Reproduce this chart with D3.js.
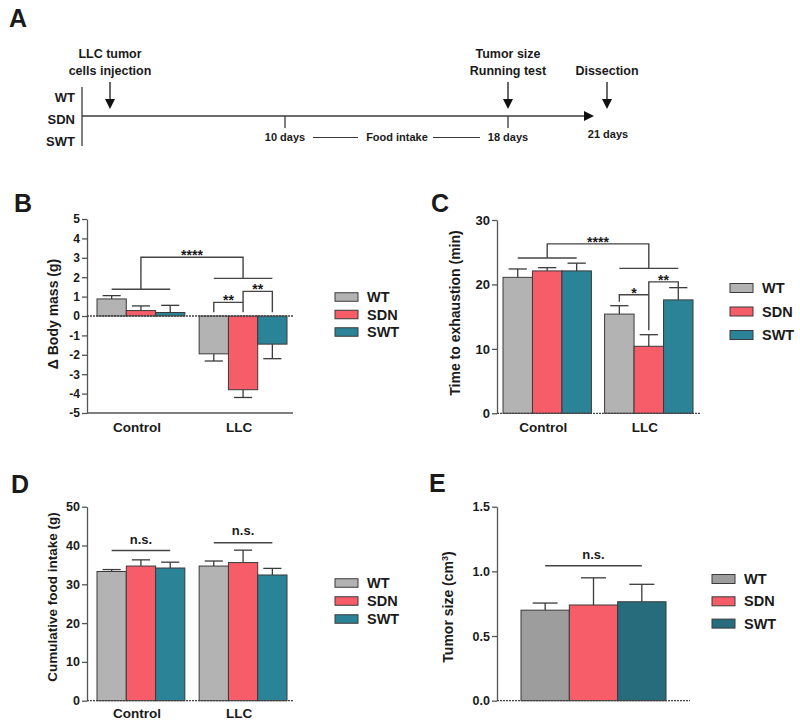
<!DOCTYPE html>
<html><head><meta charset="utf-8">
<script src="https://cdn.jsdelivr.net/npm/d3@7"></script>
<style>
body{margin:0;background:#fff}
text{font-family:"Liberation Sans",Arial,Helvetica,sans-serif;font-weight:bold;fill:#1a1a1a}
</style>
</head><body><svg id="c" width="800" height="726"></svg>
<script>
// ---------- DATA ----------
const groups = ["WT", "SDN", "SWT"];
const categories = ["Control", "LLC"];
const colorsBD = ["#b3b3b3", "#f75d68", "#2b8397"];
const colorsE = ["#9d9d9d", "#f75d68", "#266c7d"];

// Panel B: change in body mass (g)
const bodyMassControl = [0.88, 0.28, 0.18];
const bodyMassControlSem = [0.17, 0.24, 0.37];
const bodyMassLLC = [-1.95, -3.8, -1.45];
const bodyMassLLCSem = [0.37, 0.4, 0.75];
const bodyMassTicks = [-5, -4, -3, -2, -1, 0, 1, 2, 3, 4, 5];

// Panel C: time to exhaustion (min)
const exhaustControl = [21.1, 22.1, 22.1];
const exhaustControlSem = [1.3, 0.5, 1.2];
const exhaustLLC = [15.4, 10.4, 17.6];
const exhaustLLCSem = [1.3, 1.8, 1.9];
const exhaustTicks = [0, 10, 20, 30];

// Panel D: cumulative food intake (g)
const foodControl = [33.3, 34.7, 34.2];
const foodControlSem = [0.5, 1.6, 1.5];
const foodLLC = [34.7, 35.6, 32.4];
const foodLLCSem = [1.3, 3.2, 1.7];
const foodTicks = [0, 10, 20, 30, 40, 50];

// Panel E: tumor size (cm3)
const tumorSize = [0.70, 0.74, 0.765];
const tumorSizeSem = [0.055, 0.21, 0.135];
const tumorTicks = [0, 0.5, 1.0, 1.5];

// Panel A: timeline
const timelineGroups = ["WT", "SDN", "SWT"];
const timelineDays = [-1, 0, 10, 18, 21];
const timelineTicks = [10, 18];
const timelineTickLabels = ["10 days", "18 days"];
const timelineEvents = [
  {day: 0, lines: ["LLC tumor", "cells injection"]},
  {day: 18, lines: ["Tumor size", "Running test"]},
  {day: 21, lines: ["Dissection"]}
];

// ---------- DRAW ----------
const svg = d3.select("#c");
const AX = "#555";
const INK = "#3a3a3a";

function letter(t, x, y) {
  svg.append("text").attr("x", x).attr("y", y).attr("font-size", 25).text(t);
}

// Panel A
(function () {
  letter("A", 9, 27);
  const g = svg.append("g");
  const x = d3.scaleLinear().domain(timelineDays).range([82, 110, 285, 508, 607]);
  const yLine = 116;
  const yG = d3.scalePoint().domain(timelineGroups).range([97, 141]);
  g.selectAll("text.grp").data(timelineGroups).join("text")
    .attr("x", 75).attr("y", d => yG(d) + 4.5).attr("text-anchor", "end")
    .attr("font-size", 13).text(d => d);
  g.append("line").attr("x1", x(-1)).attr("x2", x(-1)).attr("y1", 87).attr("y2", 146)
    .attr("stroke", INK).attr("stroke-width", 1.3);
  g.append("line").attr("x1", x(-1)).attr("x2", 584).attr("y1", yLine).attr("y2", yLine)
    .attr("stroke", INK).attr("stroke-width", 1.5);
  g.append("path").attr("d", `M584,${yLine - 5}L594,${yLine}L584,${yLine + 5}Z`).attr("fill", "#111");
  g.selectAll("line.tk").data(timelineTicks).join("line")
    .attr("x1", d => x(d)).attr("x2", d => x(d)).attr("y1", yLine).attr("y2", yLine + 12)
    .attr("stroke", INK).attr("stroke-width", 1.3);
  g.selectAll("text.tkl").data(timelineTicks).join("text")
    .attr("x", d => x(d)).attr("y", 141).attr("text-anchor", "middle")
    .attr("font-size", 11).text((d, i) => timelineTickLabels[i]);
  g.append("text").attr("x", x(21) + 1).attr("y", 138).attr("text-anchor", "middle")
    .attr("font-size", 11).text("21 days");
  g.append("line").attr("x1", 313).attr("x2", 358).attr("y1", 137.5).attr("y2", 137.5).attr("stroke", INK);
  g.append("line").attr("x1", 433).attr("x2", 480).attr("y1", 137.5).attr("y2", 137.5).attr("stroke", INK);
  g.append("text").attr("x", 397).attr("y", 141).attr("text-anchor", "middle")
    .attr("font-size", 11).text("Food intake");
  timelineEvents.forEach(ev => {
    const cx = x(ev.day);
    g.append("line").attr("x1", cx).attr("x2", cx).attr("y1", 82).attr("y2", 100)
      .attr("stroke", INK).attr("stroke-width", 1.5);
    g.append("path").attr("d", `M${cx - 5},99L${cx + 5},99L${cx},109Z`).attr("fill", "#111");
    const n = ev.lines.length;
    ev.lines.forEach((t, i) => {
      g.append("text").attr("x", cx).attr("y", 75 - (n - 1 - i) * 17)
        .attr("text-anchor", "middle").attr("font-size", 12.5).text(t);
    });
  });
})();

// Generic bar panel
function barPanel(o) {
  const g = svg.append("g");
  const y = d3.scaleLinear().domain(o.yDomain).range(o.yRange);
  const x0 = d3.scaleBand().domain(o.cats).range(o.xRange).paddingInner(o.padInner);
  const x1 = d3.scaleBand().domain(groups).range([0, x0.bandwidth()]);
  const cx = (c, gr) => x0(c) + x1(gr) + x1.bandwidth() / 2;
  const gc = c => x0(c) + x0.bandwidth() / 2;

  const rows = [];
  o.cats.forEach((c, ci) => groups.forEach((gr, gi) => rows.push({c, gr, gi, v: o.means[ci][gi], e: o.sems[ci][gi]})));
  const bw = x1.bandwidth();
  const cap = Math.min(25, bw * 0.62);
  rows.forEach(d => {
    const sgn = d.v >= 0 ? 1 : -1;
    const xx = cx(d.c, d.gr);
    g.append("line").attr("x1", xx).attr("x2", xx).attr("y1", y(d.v)).attr("y2", y(d.v + sgn * d.e))
      .attr("stroke", INK).attr("stroke-width", 1.3);
    g.append("line").attr("x1", xx - cap / 2).attr("x2", xx + cap / 2)
      .attr("y1", y(d.v + sgn * d.e)).attr("y2", y(d.v + sgn * d.e))
      .attr("stroke", INK).attr("stroke-width", 1.3);
  });
  g.selectAll("rect.bar").data(rows).join("rect")
    .attr("x", d => x0(d.c) + x1(d.gr)).attr("width", bw)
    .attr("y", d => y(Math.max(0, d.v))).attr("height", d => Math.abs(y(d.v) - y(0)))
    .attr("fill", d => o.colors[d.gi]).attr("stroke", INK).attr("stroke-width", 1);

  const ax = g.append("g").attr("transform", `translate(${o.axisX0},0)`)
    .call(d3.axisLeft(y).tickValues(o.ticks).tickSize(5).tickSizeOuter(0).tickPadding(2).tickFormat(o.tickFmt));
  ax.select(".domain").attr("stroke", AX).attr("stroke-width", 1.3);
  ax.selectAll(".tick line").attr("stroke", AX).attr("stroke-width", 1.3);
  ax.selectAll(".tick text").attr("font-size", o.tickFont)
    .attr("font-family", '"Liberation Sans",Arial,sans-serif').attr("font-weight", "bold").attr("fill", "#1a1a1a");

  g.append("line").attr("x1", o.axisX0).attr("x2", o.axisX1).attr("y1", y(0)).attr("y2", y(0))
    .attr("stroke", "#444").attr("stroke-width", 1.3).attr("stroke-dasharray", "2,1");
  if (o.bottomAxis) {
    g.append("line").attr("x1", o.axisX0).attr("x2", o.axisX1)
      .attr("y1", y(o.yDomain[0])).attr("y2", y(o.yDomain[0]))
      .attr("stroke", AX).attr("stroke-width", 1.3);
  }
  if (o.catLabels) {
    g.selectAll("text.cat").data(o.cats).join("text")
      .attr("x", c => gc(c) - 4).attr("y", o.catLabelY).attr("text-anchor", "middle")
      .attr("font-size", 13.5).text(c => c);
  }
  g.append("text").attr("transform", `translate(${o.yLabelX},${o.yLabelY}) rotate(-90)`)
    .attr("text-anchor", "middle").attr("font-size", o.yLabelFont || 14).html(o.yLabel);

  groups.forEach((gr, i) => {
    const yy = o.leg.y0 + i * o.leg.dy;
    g.append("rect").attr("x", o.leg.x).attr("y", yy - o.leg.h / 2).attr("width", 23).attr("height", o.leg.h)
      .attr("fill", o.colors[i]).attr("stroke", INK).attr("stroke-width", 1);
    g.append("text").attr("x", o.leg.x + 32).attr("y", yy + 5).attr("font-size", 14.5).text(gr);
  });
  return {g, y, cx, gc};
}

function pathLine(g, d) {
  g.append("path").attr("d", d).attr("fill", "none").attr("stroke", "#444").attr("stroke-width", 1.4);
}
function label(g, t, x, yv, fs) {
  g.append("text").attr("x", x).attr("y", yv).attr("text-anchor", "middle").attr("font-size", fs).text(t);
}
const hyphenInt = d => String(d);

// Panel B
letter("B", 14, 212);
(function () {
  const P = barPanel({
    yDomain: [-5, 5], yRange: [413, 219], xRange: [97, 287], padInner: 0.14,
    cats: categories, means: [bodyMassControl, bodyMassLLC], sems: [bodyMassControlSem, bodyMassLLCSem],
    colors: colorsBD, ticks: bodyMassTicks, tickFmt: hyphenInt, tickFont: 12,
    axisX0: 87, axisX1: 293, bottomAxis: true, catLabels: true, catLabelY: 432,
    yLabel: "Δ Body mass (g)", yLabelX: 58, yLabelY: 314,
    leg: {x: 335, y0: 297, dy: 17.5, h: 8.5}
  });
  const {g, y, cx, gc} = P;
  pathLine(g, `M${cx("Control", "WT")},${y(1.38)}H${cx("Control", "SWT")}`);
  pathLine(g, `M${cx("LLC", "WT")},${y(1.94)}H${cx("LLC", "SWT")}`);
  pathLine(g, `M${gc("Control")},${y(1.38)}V${y(3.03)}H${gc("LLC")}V${y(1.94)}`);
  label(g, "****", (gc("Control") + gc("LLC")) / 2, y(3.03) + 3, 14);
  pathLine(g, `M${cx("LLC", "WT")},${y(0.19)}V${y(0.7)}H${cx("LLC", "SDN")}`);
  pathLine(g, `M${cx("LLC", "SDN")},${y(0.19)}V${y(1.27)}H${cx("LLC", "SWT")}V${y(0.19)}`);
  label(g, "**", (cx("LLC", "WT") + cx("LLC", "SDN")) / 2, y(0.7) + 3, 14);
  label(g, "**", (cx("LLC", "SDN") + cx("LLC", "SWT")) / 2, y(1.27) + 3, 14);
})();

// Panel C
letter("C", 431, 212);
(function () {
  const P = barPanel({
    yDomain: [0, 30], yRange: [413.3, 220], xRange: [503, 693], padInner: 0.13,
    cats: categories, means: [exhaustControl, exhaustLLC], sems: [exhaustControlSem, exhaustLLCSem],
    colors: colorsBD, ticks: exhaustTicks, tickFmt: hyphenInt, tickFont: 13,
    axisX0: 497, axisX1: 700, bottomAxis: false, catLabels: true, catLabelY: 432,
    yLabel: "Time to exhaustion (min)", yLabelX: 460, yLabelY: 313,
    leg: {x: 730, y0: 288, dy: 23.5, h: 9}
  });
  const {g, y, cx, gc} = P;
  pathLine(g, `M${cx("Control", "WT")},${y(24.1)}H${cx("Control", "SWT")}`);
  pathLine(g, `M${cx("LLC", "WT")},${y(22.5)}H${cx("LLC", "SWT")}`);
  pathLine(g, `M${gc("Control")},${y(24.1)}V${y(26.3)}H${gc("LLC")}V${y(22.5)}`);
  label(g, "****", (gc("Control") + gc("LLC")) / 2, y(26.3) + 3, 14);
  pathLine(g, `M${cx("LLC", "WT")},${y(17.3)}V${y(18.4)}H${cx("LLC", "SDN")}`);
  pathLine(g, `M${cx("LLC", "SDN")},${y(12.9)}V${y(20.4)}H${cx("LLC", "SWT")}V${y(19.5)}`);
  label(g, "*", (cx("LLC", "WT") + cx("LLC", "SDN")) / 2, y(18.4) + 3, 14);
  label(g, "**", (cx("LLC", "SDN") + cx("LLC", "SWT")) / 2, y(20.4) + 3, 14);
})();

// Panel D
letter("D", 11, 493);
(function () {
  const P = barPanel({
    yDomain: [0, 50], yRange: [700.7, 506.7], xRange: [97, 287], padInner: 0.14,
    cats: categories, means: [foodControl, foodLLC], sems: [foodControlSem, foodLLCSem],
    colors: colorsBD, ticks: foodTicks, tickFmt: hyphenInt, tickFont: 12.5,
    axisX0: 87, axisX1: 293, bottomAxis: false, catLabels: true, catLabelY: 718,
    yLabel: "Cumulative food intake (g)", yLabelX: 57, yLabelY: 597, yLabelFont: 13.5,
    leg: {x: 335, y0: 583, dy: 18, h: 8.5}
  });
  const {g, y, cx} = P;
  pathLine(g, `M${cx("Control", "WT")},${y(38.7)}H${cx("Control", "SWT")}`);
  pathLine(g, `M${cx("LLC", "WT")},${y(40.7)}H${cx("LLC", "SWT")}`);
  label(g, "n.s.", cx("Control", "SDN"), y(38.7) - 7, 13);
  label(g, "n.s.", cx("LLC", "SDN"), y(40.7) - 7.5, 13);
})();

// Panel E
letter("E", 429, 492);
(function () {
  const P = barPanel({
    yDomain: [0, 1.5], yRange: [700.7, 506.7], xRange: [521, 666], padInner: 0,
    cats: ["LLC"], means: [tumorSize], sems: [tumorSizeSem],
    colors: colorsE, ticks: tumorTicks, tickFmt: d3.format(".1f"), tickFont: 12.5,
    axisX0: 497, axisX1: 690, bottomAxis: false, catLabels: false,
    yLabel: "Tumor size (cm<tspan baseline-shift='super' font-size='9'>3</tspan>)", yLabelX: 453, yLabelY: 607,
    leg: {x: 712, y0: 579, dy: 22.3, h: 9}
  });
  const {g, y, cx} = P;
  pathLine(g, `M${cx("LLC", "WT")},${y(1.044)}H${cx("LLC", "SWT")}`);
  label(g, "n.s.", cx("LLC", "SDN"), y(1.044) - 7, 13);
})();
</script>
</body></html>
